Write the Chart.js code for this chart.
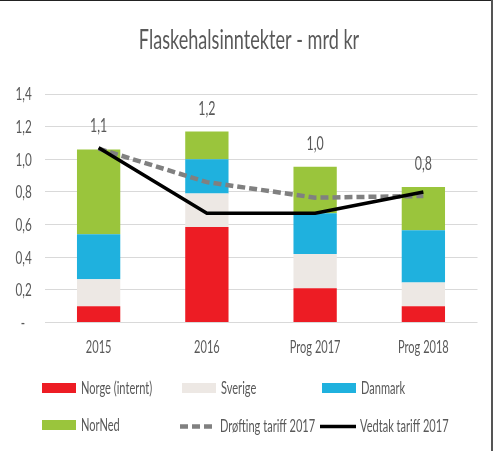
<!DOCTYPE html>
<html>
<head>
<meta charset="utf-8">
<script src="https://cdn.jsdelivr.net/npm/chart.js@4/dist/chart.umd.min.js"></script>
<style>
  html, body { margin:0; padding:0; background:#fff; }
  #wrap { position:relative; width:493px; height:451px; overflow:hidden; background:#fff; }
  #wrap:before { content:""; position:absolute; left:0; top:0; width:493px; height:1px; background:#222; z-index:3; }
  #wrap:after { content:""; position:absolute; right:0; top:0; width:2px; height:451px; background:#555; z-index:3; }
  canvas { position:absolute; left:0; top:0; }
</style>
</head>
<body>
<div id="wrap">
  <canvas id="c" width="493" height="451"></canvas>
</div>
<script>
const categories = ["2015", "2016", "Prog 2017", "Prog 2018"];
const norge   = [0.10, 0.585, 0.21, 0.10];
const sverige = [0.165, 0.205, 0.21, 0.145];
const danmark = [0.275, 0.21, 0.25, 0.32];
const norned  = [0.52, 0.17, 0.285, 0.265];
const droefting = [1.065, 0.86, 0.765, 0.775];
const vedtak    = [1.07, 0.67, 0.67, 0.80];
const yTicks = [0, 0.2, 0.4, 0.6, 0.8, 1.0, 1.2, 1.4];
const titleText = 'Flaskehalsinntekter - mrd kr';

const FONT = 'Lato, "Liberation Sans", sans-serif';
const SX = 0.67;
const TXT = '#595959';
const C = { norge:'#ED1C24', sverige:'#EDE8E4', danmark:'#1FB1DE', norned:'#9AC53C', drof:'#808080', ved:'#000000' };

function txt(ctx, s, x, y, align, size) {
  ctx.save();
  ctx.font = size + 'px ' + FONT;
  ctx.fillStyle = TXT;
  ctx.textAlign = align;
  ctx.textBaseline = 'alphabetic';
  ctx.translate(x, y);
  ctx.scale(SX, 1);
  ctx.fillText(s, 0, 0);
  ctx.restore();
}

const textPlugin = {
  id: 'texts',
  afterDraw(chart) {
    const ctx = chart.ctx;
    const xs = chart.scales.x, ys = chart.scales.y;
    // title
    txt(ctx, titleText, 249, 49, 'center', 27);
    // y tick labels
    ys.ticks.forEach(t => {
      const y = ys.getPixelForValue(t.value);
      if (t.value === 0) txt(ctx, '-', 25, y + 6, 'right', 17.5);
      else txt(ctx, t.value.toFixed(1).replace('.', ','), 31.7, y + 6.3, 'right', 17.5);
    });
    // x labels
    xs.ticks.forEach((t, i) => {
      txt(ctx, chart.data.labels[t.value], xs.getPixelForValue(t.value), 353.3, 'center', 16.5);
    });
    // totals
    categories.forEach((c, i) => {
      const tot = norge[i] + sverige[i] + danmark[i] + norned[i];
      const x = xs.getPixelForValue(i);
      const y = ys.getPixelForValue(tot) - 17;
      txt(ctx, tot.toFixed(1).replace('.', ','), x, y, 'center', 18.5);
    });
    // legend
    const ds = chart.data.datasets;
    const byLabel = l => ds.find(d => d.label === l);
    const items = [
      ['Norge (internt)', 42, 388], ['Sverige', 182, 388], ['Danmark', 322, 388],
      ['NorNed', 42, 425], ['Drøfting tariff 2017', 180, 426.5], ['Vedtak tariff 2017', 320, 426.5]
    ];
    items.forEach(([label, x, yc]) => {
      const d = byLabel(label);
      ctx.save();
      if (d.type === 'bar') {
        ctx.fillStyle = d.backgroundColor;
        ctx.fillRect(x, yc - 5, 34, 10);
      } else {
        ctx.strokeStyle = d.borderColor;
        ctx.lineWidth = d.borderWidth;
        ctx.setLineDash(d.borderDash || []);
        ctx.beginPath();
        ctx.moveTo(x, yc);
        ctx.lineTo(x + 36, yc);
        ctx.stroke();
      }
      ctx.restore();
      txt(ctx, label, x + (d.type === 'bar' ? 39 : 40), yc + 5.5, 'left', 16.5);
    });
  }
};

const barDs = (label, data, color) => ({
  type: 'bar', label, data, backgroundColor: color, borderWidth: 0,
  stack: 'bars', order: 2, barPercentage: 0.4, categoryPercentage: 1.0
});

new Chart(document.getElementById('c'), {
  data: {
    labels: categories,
    datasets: [
      barDs('Norge (internt)', norge, C.norge),
      barDs('Sverige', sverige, C.sverige),
      barDs('Danmark', danmark, C.danmark),
      barDs('NorNed', norned, C.norned),
      { type:'line', label:'Drøfting tariff 2017', data: droefting, borderColor: C.drof, borderWidth: 4.5,
        borderDash: [8, 4], pointRadius: 0, tension: 0, fill: false, order: 1, stack: 'drof' },
      { type:'line', label:'Vedtak tariff 2017', data: vedtak, borderColor: C.ved, borderWidth: 3.5,
        pointRadius: 0, tension: 0, fill: false, order: 0, stack: 'ved' }
    ]
  },
  options: {
    responsive: false,
    animation: false,
    layout: { padding: { left: 0, right: 15.5, top: 94, bottom: 88.5 } },
    plugins: {
      legend: { display: false },
      tooltip: { enabled: false },
      title: { display: false }
    },
    scales: {
      x: {
        stacked: true,
        grid: { display: false, drawTicks: false },
        border: { display: false },
        ticks: { display: false },
        afterFit(s) { s.height = 40; }
      },
      y: {
        stacked: true, min: 0, max: 1.4,
        afterBuildTicks(s) { s.ticks = yTicks.map(v => ({ value: v })); },
        grid: { color: '#D9D9D9', lineWidth: 1, drawTicks: false },
        border: { display: false },
        ticks: { display: false },
        afterFit(s) { s.width = 44.5; }
      }
    }
  },
  plugins: [textPlugin]
});
</script>
</body>
</html>
